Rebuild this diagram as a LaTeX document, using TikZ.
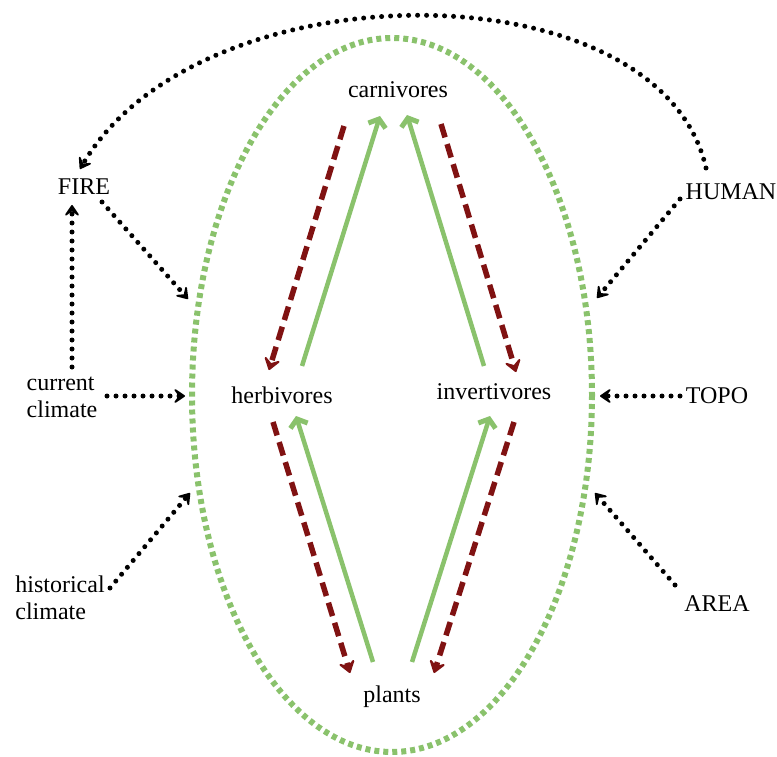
\documentclass[tikz,border=0pt]{standalone}
\usepackage{fontspec}
\setmainfont{Liberation Serif}
\usetikzlibrary{arrows.meta}
\definecolor{lgreen}{RGB}{138,194,108}
\definecolor{dred}{RGB}{128,18,18}
\begin{document}
\begin{tikzpicture}[x=1pt,y=-1pt,
  lbl/.style={font=\fontsize{24}{27}\selectfont, inner sep=0pt, align=left},
  blackdot/.style={line width=5pt, line cap=round, dash pattern=on 0pt off 9pt,
     -{Stealth[length=14pt,width=19pt,inset=7pt,round]}},
  reddash/.style={dred, line width=5.5pt, dash pattern=on 14pt off 7pt,
     -{Stealth[length=15pt,width=21pt,inset=7pt,round]}},
  greenarr/.style={lgreen, line width=4.5pt,
     -{Straight Barb[length=7pt,width=18pt,line width=5pt]}},
  greenell/.style={lgreen, line width=6pt, dash pattern=on 5pt off 4pt}
]
\useasboundingbox (0,0) rectangle (777,757);
\draw[greenell] (392,395) ellipse [x radius=200, y radius=357];

\node[lbl] (carn) at (398,90) {carnivores};
\node[lbl] (herb) at (282,395) {herbivores};
\node[lbl] (inv) at (494,392) {invertivores};
\node[lbl] (plants) at (392,697) {plants};
\node[lbl] (fire) at (84,187) {FIRE};
\node[lbl] (human) at (731,192) {HUMAN};
\node[lbl] (cur) at (62,397) {current\\climate};
\node[lbl] (topo) at (717,396) {TOPO};
\node[lbl] (hist) at (60,598) {historical\\climate};
\node[lbl] (area) at (717,604) {AREA};

% coordinates for connectors
\coordinate (c_h1) at (344,126); \coordinate (c_h2) at (269,370);
\coordinate (c_i1) at (441,124); \coordinate (c_i2) at (516,372);
\coordinate (h_p1) at (273,422); \coordinate (h_p2) at (350,673);
\coordinate (i_p1) at (514,422); \coordinate (i_p2) at (434,673);
\coordinate (h_c1) at (302,366); \coordinate (h_c2) at (380,116);
\coordinate (i_c1) at (484,366); \coordinate (i_c2) at (407,115);
\coordinate (p_h1) at (373,662); \coordinate (p_h2) at (296,416);
\coordinate (p_i1) at (412,662); \coordinate (p_i2) at (490,416);

\draw[reddash] (c_h1) -- (c_h2);
\draw[reddash] (c_i1) -- (c_i2);
\draw[reddash] (h_p1) -- (h_p2);
\draw[reddash] (i_p1) -- (i_p2);
\draw[greenarr] (h_c1) -- (h_c2);
\draw[greenarr] (i_c1) -- (i_c2);
\draw[greenarr] (p_h1) -- (p_h2);
\draw[greenarr] (p_i1) -- (p_i2);

\coordinate (hu1) at (706,168); \coordinate (fi1) at (80,169);
\coordinate (fi2) at (102,202); \coordinate (e1) at (188,299);
\coordinate (cu1) at (72,367); \coordinate (fi3) at (72,205);
\coordinate (cu2) at (107,396); \coordinate (e2) at (185,396);
\coordinate (hi1) at (110,588); \coordinate (e3) at (190,493);
\coordinate (hu2) at (680,199); \coordinate (e4) at (597,298);
\coordinate (to1) at (680,396); \coordinate (e5) at (600,396);
\coordinate (ar1) at (675,585); \coordinate (e6) at (595,493);

\draw[blackdot] (hu1) .. controls (660,-35) and (200,-35) .. (fi1);
\draw[blackdot] (fi2) -- (e1);
\draw[blackdot] (cu1) -- (fi3);
\draw[blackdot] (cu2) -- (e2);
\draw[blackdot] (hi1) -- (e3);
\draw[blackdot] (hu2) -- (e4);
\draw[blackdot] (to1) -- (e5);
\draw[blackdot] (ar1) -- (e6);
\end{tikzpicture}
\end{document}
